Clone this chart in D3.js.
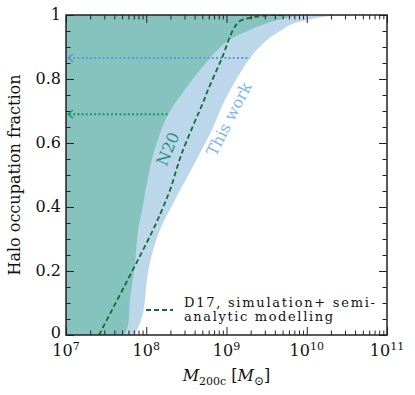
<!DOCTYPE html>
<html>
<head>
<meta charset="utf-8">
<script src="https://cdn.jsdelivr.net/npm/d3@7"></script>
<style>
  html, body { margin: 0; padding: 0; background: #fff; }
  svg text { font-family: "DejaVu Serif", serif; fill: #111; }
</style>
</head>
<body>
<svg id="chart" width="415" height="395"></svg>
<script>
// N20 lower bound (log10 M200c, occupation fraction)
const n20LogM = [7, 7.71, 7.80, 7.86, 7.90, 7.95, 8.08, 8.27, 8.48, 8.67, 8.98, 9.29, 9.63, 9.92, 10.17, 11];
const n20Frac = [0, 0, 0.119, 0.225, 0.328, 0.391, 0.556, 0.688, 0.766, 0.828, 0.912, 0.953, 0.984, 0.998, 1, 1];

// This work lower bound
const thisLogM = [7, 7.835, 7.885, 7.96, 8.009, 8.047, 8.171, 8.358, 8.67, 8.819, 8.981, 9.293, 9.505, 9.667, 9.791, 10.003, 10.29, 10.66, 11];
const thisFrac = [0, 0, 0.016, 0.069, 0.172, 0.228, 0.328, 0.422, 0.569, 0.641, 0.734, 0.866, 0.922, 0.95, 0.969, 0.984, 0.997, 1, 1];

// D17 simulation + semi-analytic modelling
const d17LogM = [7.411, 8.084, 8.196, 8.296, 8.445, 8.72, 8.769, 8.944, 9.081, 9.168, 9.38, 9.579, 9.7];
const d17Frac = [0, 0.328, 0.391, 0.453, 0.569, 0.734, 0.766, 0.866, 0.953, 0.981, 0.995, 1, 1];

// dotted arrows: level, end mass (log10)
const arrowLevel = [0.866, 0.69];
const arrowLogM = [9.293, 8.29];
const arrowColor = ["#5b9bd5", "#23a071"];

const xMajor = [1e7, 1e8, 1e9, 1e10, 1e11];
const xExp = ["7", "8", "9", "10", "11"];
const yMajor = [0, 0.2, 0.4, 0.6, 0.8, 1];
const yLabels = ["0", "0.2", "0.4", "0.6", "0.8", "1"];

const svg = d3.select("#chart");
const pLeft = 66, pRight = 387, pTop = 15, pBottom = 335;

const x = d3.scaleLog().domain([1e7, 1e11]).range([pLeft, pRight]);
const y = d3.scaleLinear().domain([0, 1]).range([pBottom, pTop]);

const toPts = (lm, fr) => lm.map((v, i) => [Math.pow(10, v), fr[i]]);
const smooth = d3.curveCatmullRom.alpha(0.5);

svg.append("defs").append("clipPath").attr("id", "clip")
  .append("rect").attr("x", pLeft).attr("y", pTop)
  .attr("width", pRight - pLeft).attr("height", pBottom - pTop);

const plot = svg.append("g").attr("clip-path", "url(#clip)");

const area = d3.area()
  .x(d => x(d[0]))
  .y0(y(1))
  .y1(d => y(d[1]))
  .curve(smooth);

plot.append("path").datum(toPts(thisLogM, thisFrac))
  .attr("d", area).attr("fill", "#bcd7ea");
plot.append("path").datum(toPts(n20LogM, n20Frac))
  .attr("d", area).attr("fill", "#87c3be");

const line = d3.line()
  .x(d => x(d[0]))
  .y(d => y(d[1]))
  .curve(smooth);

plot.append("path").datum(toPts(d17LogM, d17Frac))
  .attr("d", line).attr("fill", "none")
  .attr("stroke", "#146b38").attr("stroke-width", 1.8)
  .attr("stroke-dasharray", "5,3");

// dotted arrows pointing to the left edge
arrowLevel.forEach((lv, i) => {
  const yy = y(lv);
  plot.append("line")
    .attr("x1", pLeft + 3).attr("x2", x(Math.pow(10, arrowLogM[i])))
    .attr("y1", yy).attr("y2", yy)
    .attr("stroke", arrowColor[i]).attr("stroke-width", i === 0 ? 2 : 2.5)
    .attr("stroke-dasharray", "2,2.2");
  plot.append("path")
    .attr("d", `M${pLeft + 7},${yy - 4}L${pLeft + 2},${yy}L${pLeft + 7},${yy + 4}`)
    .attr("fill", "none").attr("stroke", arrowColor[i]).attr("stroke-width", 1.5);
});

// curve labels
svg.append("text")
  .attr("transform", "translate(168,149) rotate(-67)")
  .attr("text-anchor", "middle").attr("dominant-baseline", "central")
  .style("font-size", "16px").style("fill", "#2a8f7e")
  .text("N20");
svg.append("text")
  .attr("transform", "translate(229,119) rotate(-63)")
  .attr("text-anchor", "middle").attr("dominant-baseline", "central")
  .style("font-size", "16px").style("fill", "#7db7e8")
  .text("This work");

// legend
svg.append("line")
  .attr("x1", 146).attr("x2", 173).attr("y1", 310).attr("y2", 310)
  .attr("stroke", "#146b38").attr("stroke-width", 1.8)
  .attr("stroke-dasharray", "5,3");
svg.append("text").attr("x", 184).attr("y", 307)
  .attr("textLength", 191).attr("lengthAdjust", "spacing")
  .style("font-size", "13px").text("D17, simulation+ semi-");
svg.append("text").attr("x", 184).attr("y", 321)
  .attr("textLength", 149).attr("lengthAdjust", "spacing")
  .style("font-size", "13px").text("analytic modelling");

// ticks
const xMinor = [];
for (let e = 7; e < 11; e++) for (let m = 2; m < 10; m++) xMinor.push(m * Math.pow(10, e));
const yMinor = d3.range(0, 1.0001, 0.05).filter(v => Math.abs(v * 5 - Math.round(v * 5)) > 1e-6);

function tickAxis(axisFn, scale, vals, size, transform) {
  const g = svg.append("g").attr("transform", transform)
    .call(axisFn(scale).tickValues(vals).tickSizeInner(-size).tickSizeOuter(0).tickFormat(""));
  g.select(".domain").remove();
  g.selectAll("line").attr("stroke", "#222").attr("stroke-width", 1);
}
tickAxis(d3.axisBottom, x, xMajor, 8, `translate(0,${pBottom})`);
tickAxis(d3.axisBottom, x, xMinor, 4.5, `translate(0,${pBottom})`);
tickAxis(d3.axisTop, x, xMajor, 8, `translate(0,${pTop})`);
tickAxis(d3.axisTop, x, xMinor, 4.5, `translate(0,${pTop})`);
tickAxis(d3.axisLeft, y, yMajor, 8, `translate(${pLeft},0)`);
tickAxis(d3.axisLeft, y, yMinor, 4.5, `translate(${pLeft},0)`);
tickAxis(d3.axisRight, y, yMajor, 8, `translate(${pRight},0)`);
tickAxis(d3.axisRight, y, yMinor, 4.5, `translate(${pRight},0)`);

svg.append("rect")
  .attr("x", pLeft).attr("y", pTop)
  .attr("width", pRight - pLeft).attr("height", pBottom - pTop)
  .attr("fill", "none").attr("stroke", "#222").attr("stroke-width", 1.5);

// tick labels
yMajor.forEach((v, i) => {
  svg.append("text").attr("x", pLeft - 5).attr("y", y(v) + (v === 0 ? 3 : 5))
    .attr("text-anchor", "end").style("font-size", "16px").text(yLabels[i]);
});
xMajor.forEach((v, i) => {
  const t = svg.append("text").attr("x", x(v)).attr("y", pBottom + 21)
    .attr("text-anchor", "middle").style("font-size", "16px");
  t.append("tspan").text("10");
  t.append("tspan").attr("dy", -6).style("font-size", "11px").text(xExp[i]);
});

// axis titles
svg.append("text")
  .attr("transform", `translate(20,${(pTop + pBottom) / 2}) rotate(-90)`)
  .attr("text-anchor", "middle").style("font-size", "16px")
  .text("Halo occupation fraction");

const xt = svg.append("text").attr("x", (pLeft + pRight) / 2).attr("y", 381)
  .attr("text-anchor", "middle").style("font-size", "16px");
xt.append("tspan").style("font-style", "italic").text("M");
xt.append("tspan").attr("dy", 4).style("font-size", "11px").text("200c");
xt.append("tspan").attr("dy", -4).text(" [");
xt.append("tspan").style("font-style", "italic").text("M");
xt.append("tspan").attr("dy", 4).style("font-size", "12px").text("\u2299");
xt.append("tspan").attr("dy", -4).text("]");
</script>
</body>
</html>
